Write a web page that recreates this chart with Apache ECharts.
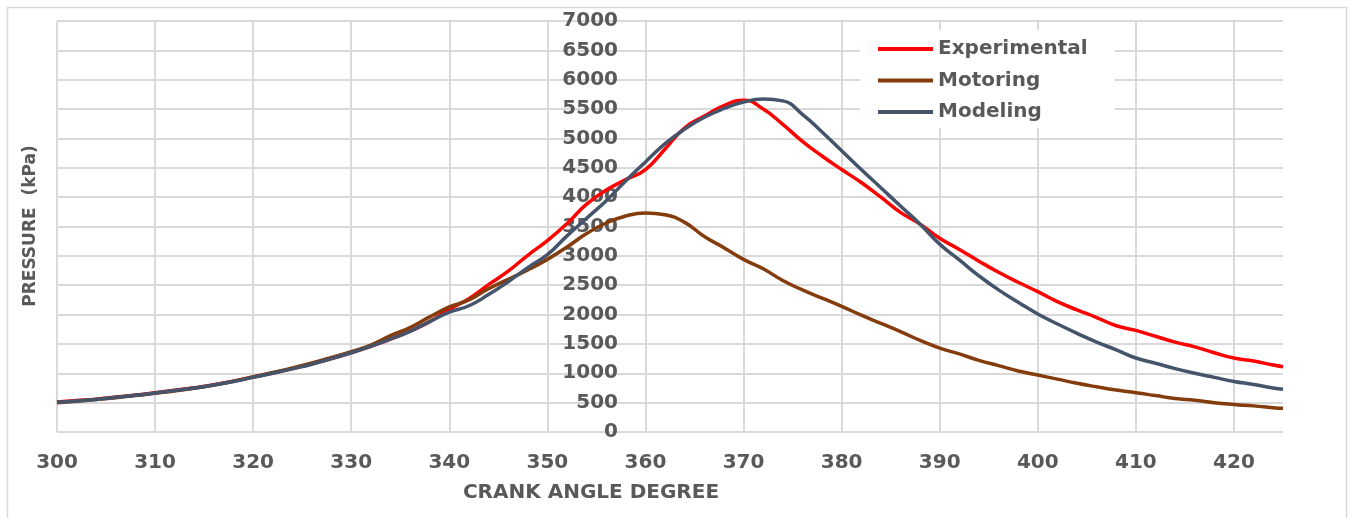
<!DOCTYPE html>
<html>
<head>
<meta charset="utf-8">
<script src="https://cdn.jsdelivr.net/npm/echarts@6/dist/echarts.min.js"></script>
<style>
  html, body { margin: 0; padding: 0; background: #fff; }
  #chart { width: 1353px; height: 518px; }
</style>
</head>
<body>
<div id="chart"></div>
<script>
const angles = [300, 302, 304, 306, 308, 310, 312, 314, 316, 318, 320, 322, 324, 326, 328, 330,
    332, 334, 336, 338, 340, 342, 344, 346, 348, 350, 352, 354, 356, 358, 360, 362, 364, 366,
    368, 370, 372, 374, 376, 378, 380, 382, 384, 386, 388, 390, 392, 394, 396, 398, 400, 402,
    404, 406, 408, 410, 412, 414, 416, 418, 420, 422, 424, 425];

const experimental = [510, 535, 560, 595, 630, 670, 710, 755, 805, 865, 935, 1005, 1080, 1160, 1250, 1350,
    1460, 1580, 1720, 1880, 2090, 2270, 2510, 2740, 3010, 3260, 3550, 3880, 4120, 4300, 4470, 4820, 5180, 5380,
    5560, 5650, 5500, 5240, 4950, 4700, 4470, 4250, 4000, 3740, 3540, 3300, 3110, 2910, 2720, 2550, 2390, 2220,
    2080, 1950, 1810, 1730, 1630, 1530, 1450, 1350, 1260, 1210, 1140, 1113];

const motoring = [500, 525, 555, 585, 620, 660, 700, 745, 800, 865, 940, 1015, 1090, 1175, 1270, 1370,
    1480, 1640, 1780, 1960, 2130, 2250, 2440, 2600, 2760, 2940, 3150, 3380, 3560, 3680, 3730, 3700, 3570, 3330,
    3140, 2940, 2780, 2580, 2420, 2280, 2140, 1990, 1850, 1710, 1560, 1430, 1330, 1220, 1130, 1040, 970, 900,
    830, 770, 715, 670, 620, 570, 540, 500, 470, 445, 415, 403];

const modeling = [505, 530, 555, 590, 625, 665, 705, 750, 800, 860, 930, 1000, 1075, 1155, 1250, 1350,
    1460, 1580, 1715, 1880, 2040, 2150, 2340, 2560, 2800, 3020, 3340, 3640, 3940, 4280, 4600, 4910, 5160, 5360,
    5510, 5620, 5670, 5640, 5410, 5110, 4790, 4470, 4160, 3850, 3540, 3200, 2930, 2660, 2420, 2210, 2010, 1840,
    1680, 1530, 1400, 1260, 1170, 1080, 1000, 930, 860, 810, 750, 727];

const seriesNames = ['Experimental', 'Motoring', 'Modeling'];
const seriesColors = ['#ff0000', '#843c0c', '#44546a'];

const chart = echarts.init(document.getElementById('chart'));

const pair = (vals) => angles.map((a, i) => [a, vals[i]]);

const font = 'DejaVu Sans';
const textColor = '#595959';

// 13 visible vertical lines (300..420), none at the 425 edge
const xLineColors = [];
for (let i = 0; i < 13; i++) xLineColors.push('#d9d9d9');
xLineColors.push('rgba(0,0,0,0)');

const option = {
    animation: false,
    backgroundColor: '#fff',
    grid: { left: 57, right: 70, top: 21, bottom: 86 },
    xAxis: {
        type: 'value',
        min: 300,
        max: 425,
        interval: 10,
        axisLine: { show: false },
        axisTick: { show: false },
        axisLabel: {
            margin: 21,
            showMaxLabel: false,
            color: textColor,
            fontFamily: font,
            fontWeight: 'bold',
            fontSize: 20
        },
        splitLine: { lineStyle: { color: xLineColors, width: 2 } }
    },
    yAxis: {
        type: 'value',
        min: 0,
        max: 7000,
        interval: 500,
        offset: -569,
        axisLine: { show: false },
        axisTick: { show: false },
        axisLabel: {
            margin: 8,
            color: textColor,
            fontFamily: font,
            fontWeight: 'bold',
            fontSize: 20,
            formatter: (v) => String(v)
        },
        splitLine: { lineStyle: { color: '#d9d9d9', width: 2 } }
    },
    legend: {
        orient: 'vertical',
        left: 860,
        top: 30,
        padding: [9, 27, 6, 18],
        backgroundColor: '#fff',
        icon: 'rect',
        itemWidth: 55,
        itemHeight: 4,
        itemGap: 11.5,
        textStyle: {
            color: textColor,
            fontFamily: font,
            fontWeight: 'bold',
            fontSize: 20,
            lineHeight: 20
        },
        data: seriesNames
    },
    graphic: [
        {
            type: 'rect',
            silent: true,
            shape: { x: 7.5, y: 7.5, width: 1339, height: 530 },
            style: { fill: 'none', stroke: '#d9d9d9', lineWidth: 1.5 }
        },
        {
            type: 'text',
            x: 31,
            y: 226,
            rotation: Math.PI / 2,
            style: {
                text: 'PRESSURE  (kPa)',
                fill: textColor,
                font: 'bold 17px "DejaVu Sans"',
                align: 'center',
                verticalAlign: 'middle'
            }
        },
        {
            type: 'text',
            x: 591,
            y: 493,
            style: {
                text: 'CRANK ANGLE DEGREE',
                fill: textColor,
                font: 'bold 20px "DejaVu Sans"',
                align: 'center',
                verticalAlign: 'middle'
            }
        }
    ],
    series: [experimental, motoring, modeling].map((vals, i) => ({
        name: seriesNames[i],
        type: 'line',
        data: pair(vals),
        smooth: true,
        symbol: 'none',
        color: seriesColors[i],
        lineStyle: { width: 3.5, color: seriesColors[i] }
    }))
};

chart.setOption(option);
</script>
</body>
</html>
